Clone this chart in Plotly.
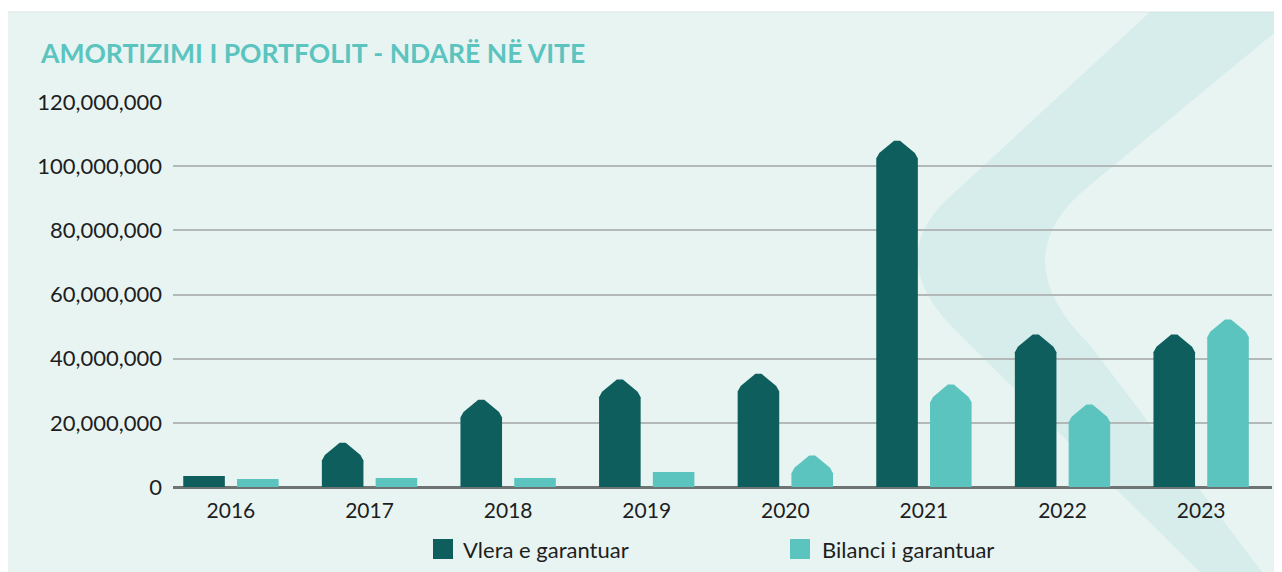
import plotly.graph_objects as go

# data
years = ["2016", "2017", "2018", "2019", "2020", "2021", "2022", "2023"]
vlera_garantuar = [3.4e6, 14.6e6, 28.0e6, 34.3e6, 36.1e6, 108.7e6, 48.3e6, 48.3e6]
bilanci_garantuar = [2.5e6, 2.8e6, 2.8e6, 4.7e6, 10.6e6, 32.7e6, 26.5e6, 53.0e6]
y_ticks = [0, 20e6, 40e6, 60e6, 80e6, 100e6, 120e6]

DARK = "#0E5E5E"
LIGHT = "#5BC4BF"
BG = "#E8F4F2"
TXT = "#1E1E1E"

# the page body has an 8px margin, so page positions are shifted back by 8
OFF = 8
W, H = 1282, 572
L, R, T, B = 173 - OFF, 18, 102 - OFF, 93
PW, PH = W - L - R, H - T - B

X_MIN, X_MAX = -0.418, -0.418 + PW / 138.6
Y_MAX = 120e6
Y_PER_PX = Y_MAX / PH

HALF_W = 0.15          # half bar width, in category units
OFFSET = 0.194         # distance of each bar from the group centre
TIP = 5.4e6            # height of the arrow head
CX = 3 / 138.6         # small corner cut, x
CY = 3 * Y_PER_PX      # small corner cut, y


def arrow_shape(xc, v):
    xl, xr = xc - HALF_W, xc + HALF_W
    if v <= 1.5 * TIP:
        return [xl, xl, xr, xr, xl], [0, v, v, 0, 0]
    s = TIP / HALF_W * CX
    xs = [xl, xl, xl + CX, xc - CX, xc + CX, xr - CX, xr, xr, xl]
    ys = [0, v - TIP - CY, v - TIP + s, v - s, v - s, v - TIP + s, v - TIP - CY, 0, 0]
    return xs, ys


def px(xp, yp):
    # page pixel -> paper fraction
    return (xp - OFF - L) / PW, (H - B - (yp - OFF)) / PH


fig = go.Figure()

for series, shift, color in [(vlera_garantuar, -OFFSET, DARK), (bilanci_garantuar, OFFSET, LIGHT)]:
    for i, v in enumerate(series):
        xs, ys = arrow_shape(i + shift, v)
        fig.add_trace(go.Scatter(x=xs, y=ys, mode="lines", fill="toself",
                                 fillcolor=color, line=dict(width=0, color=color),
                                 showlegend=False, hoverinfo="skip"))

shapes = []
# panel background
x0, y0 = px(7, 12)
x1, y1 = px(W + 20, H + 20)
shapes.append(dict(type="rect", xref="paper", yref="paper", x0=x0, y0=y0, x1=x1, y1=y1,
                   fillcolor=BG, line=dict(color="#DCE6E4", width=1), layer="below"))

# faint chevron watermark
pts = [("M", 1150, 12), ("L", 955, 192), ("Q", 880, 255, 955, 330), ("L", 1200, 572),
       ("L", 1262, 572), ("L", 1090, 345), ("Q", 1000, 257, 1090, 185),
       ("L", 1290, 20), ("L", 1290, 12)]
path = ""
for p in pts:
    cmd, coords = p[0], p[1:]
    parts = []
    for k in range(0, len(coords), 2):
        a, b = px(coords[k], coords[k + 1])
        parts.append(f"{a:.4f},{b:.4f}")
    path += cmd + " " + " ".join(parts) + " "
path += "Z"
shapes.append(dict(type="path", xref="paper", yref="paper", path=path,
                   fillcolor="rgba(91,196,191,0.13)", line=dict(width=0), layer="below"))

# legend squares
for (sx, color) in [(433, DARK), (790, LIGHT)]:
    a0, b0 = px(sx, 539)
    a1, b1 = px(sx + 20, 559)
    shapes.append(dict(type="rect", xref="paper", yref="paper", x0=a0, y0=b1, x1=a1, y1=b0,
                       fillcolor=color, line=dict(width=0)))

annotations = []
for (tx, label) in [(461, "Vlera e garantuar"), (820, "Bilanci i garantuar")]:
    a, b = px(tx, 549)
    annotations.append(dict(x=a, y=b, xref="paper", yref="paper", text=label, showarrow=False,
                            xanchor="left", yanchor="middle",
                            font=dict(family="Lato", size=22, color=TXT)))

ta, tb = px(38, 53)
annotations.append(dict(x=ta, y=tb, xref="paper", yref="paper",
                        text="AMORTIZIMI I PORTFOLIT - NDARË NË VITE", showarrow=False,
                        xanchor="left", yanchor="middle",
                        font=dict(family="Lato", size=26.5, color=LIGHT, weight="bold")))

fig.update_layout(
    width=W, height=H,
    margin=dict(l=L, r=R, t=T, b=B, autoexpand=False),
    paper_bgcolor="white",
    plot_bgcolor="rgba(0,0,0,0)",
    shapes=shapes,
    annotations=annotations,
    showlegend=False,
    xaxis=dict(range=[X_MIN, X_MAX], tickvals=list(range(len(years))), ticktext=years,
               showgrid=False, zeroline=False, ticks="", ticklabelstandoff=9,
               tickfont=dict(family="Lato", size=21, color=TXT)),
    yaxis=dict(range=[0, Y_MAX], tickvals=y_ticks, tickformat=",.0f",
               showgrid=True, gridcolor="#B2B9B8", gridwidth=2,
               zeroline=True, zerolinecolor="#6E7474", zerolinewidth=3,
               ticks="", ticklabelstandoff=10,
               tickfont=dict(family="Lato", size=22, color=TXT)),
)

fig.write_html("out.html")
